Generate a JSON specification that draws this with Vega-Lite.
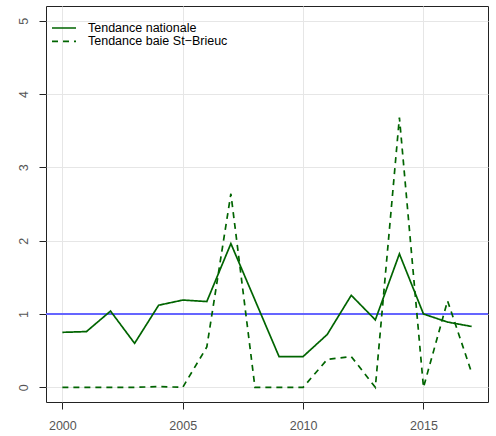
{
  "$schema": "https://vega.github.io/schema/vega-lite/v6.json",
  "width": 442,
  "height": 396,
  "autosize": {"type": "none"},
  "padding": {"left": 46, "top": 6, "right": 8, "bottom": 34},
  "background": "white",
  "config": {
    "font": "Liberation Sans",
    "view": {"stroke": "#222", "strokeWidth": 1},
    "axis": {
      "grid": true,
      "gridColor": "#e6e6e6",
      "gridWidth": 1,
      "domain": false,
      "tickColor": "#222",
      "tickSize": 7,
      "labelColor": "#555",
      "labelFont": "Liberation Sans",
      "labelFontSize": 12.5,
      "title": null
    }
  },
  "data": {
    "values": [
      {"year": 2000, "value": 0.75, "series": "Tendance nationale"},
      {"year": 2001, "value": 0.76, "series": "Tendance nationale"},
      {"year": 2002, "value": 1.04, "series": "Tendance nationale"},
      {"year": 2003, "value": 0.60, "series": "Tendance nationale"},
      {"year": 2004, "value": 1.12, "series": "Tendance nationale"},
      {"year": 2005, "value": 1.19, "series": "Tendance nationale"},
      {"year": 2006, "value": 1.17, "series": "Tendance nationale"},
      {"year": 2007, "value": 1.96, "series": "Tendance nationale"},
      {"year": 2008, "value": 1.19, "series": "Tendance nationale"},
      {"year": 2009, "value": 0.42, "series": "Tendance nationale"},
      {"year": 2010, "value": 0.42, "series": "Tendance nationale"},
      {"year": 2011, "value": 0.72, "series": "Tendance nationale"},
      {"year": 2012, "value": 1.255, "series": "Tendance nationale"},
      {"year": 2013, "value": 0.92, "series": "Tendance nationale"},
      {"year": 2014, "value": 1.82, "series": "Tendance nationale"},
      {"year": 2015, "value": 1.0, "series": "Tendance nationale"},
      {"year": 2016, "value": 0.89, "series": "Tendance nationale"},
      {"year": 2017, "value": 0.83, "series": "Tendance nationale"},
      {"year": 2000, "value": 0.0, "series": "Tendance baie St\u2212Brieuc"},
      {"year": 2001, "value": 0.0, "series": "Tendance baie St\u2212Brieuc"},
      {"year": 2002, "value": 0.0, "series": "Tendance baie St\u2212Brieuc"},
      {"year": 2003, "value": 0.0, "series": "Tendance baie St\u2212Brieuc"},
      {"year": 2004, "value": 0.01, "series": "Tendance baie St\u2212Brieuc"},
      {"year": 2005, "value": 0.0, "series": "Tendance baie St\u2212Brieuc"},
      {"year": 2006, "value": 0.55, "series": "Tendance baie St\u2212Brieuc"},
      {"year": 2007, "value": 2.64, "series": "Tendance baie St\u2212Brieuc"},
      {"year": 2008, "value": 0.0, "series": "Tendance baie St\u2212Brieuc"},
      {"year": 2009, "value": 0.0, "series": "Tendance baie St\u2212Brieuc"},
      {"year": 2010, "value": 0.0, "series": "Tendance baie St\u2212Brieuc"},
      {"year": 2011, "value": 0.38, "series": "Tendance baie St\u2212Brieuc"},
      {"year": 2012, "value": 0.42, "series": "Tendance baie St\u2212Brieuc"},
      {"year": 2013, "value": 0.0, "series": "Tendance baie St\u2212Brieuc"},
      {"year": 2014, "value": 3.68, "series": "Tendance baie St\u2212Brieuc"},
      {"year": 2015, "value": 0.0, "series": "Tendance baie St\u2212Brieuc"},
      {"year": 2016, "value": 1.18, "series": "Tendance baie St\u2212Brieuc"},
      {"year": 2017, "value": 0.20, "series": "Tendance baie St\u2212Brieuc"}
    ]
  },
  "encoding": {
    "x": {
      "field": "year",
      "type": "quantitative",
      "scale": {"domain": [1999.32, 2017.68], "nice": false, "zero": false},
      "axis": {"values": [2000, 2005, 2010, 2015], "format": "d", "labelPadding": 10, "labelBaseline": "top"}
    },
    "y": {
      "field": "value",
      "type": "quantitative",
      "scale": {"domain": [-0.2, 5.2], "nice": false, "zero": false},
      "axis": {"values": [0, 1, 2, 3, 4, 5], "labelAngle": -90, "labelAlign": "center", "labelBaseline": "bottom", "labelPadding": 9}
    }
  },
  "layer": [
    {
      "mark": {"type": "rule", "color": "#6666ff", "strokeWidth": 1.7},
      "encoding": {"y": {"datum": 1}, "x": null}
    },
    {
      "mark": {"type": "line", "color": "#006400", "strokeWidth": 1.7},
      "encoding": {
        "strokeDash": {
          "field": "series",
          "type": "nominal",
          "scale": {"domain": ["Tendance nationale", "Tendance baie St\u2212Brieuc"], "range": [[1, 0], [6, 5]]},
          "legend": {
            "title": null,
            "orient": "none",
            "legendX": 5,
            "legendY": 15.5,
            "symbolType": "stroke",
            "symbolSize": 576,
            "symbolStrokeColor": "#006400",
            "symbolStrokeWidth": 1.7,
            "labelFont": "Liberation Sans",
            "labelFontSize": 12.5,
            "labelColor": "#000",
            "labelOffset": 11,
            "clipHeight": 13,
            "rowPadding": 0.4,
            "padding": 0
          }
        }
      }
    }
  ]
}
